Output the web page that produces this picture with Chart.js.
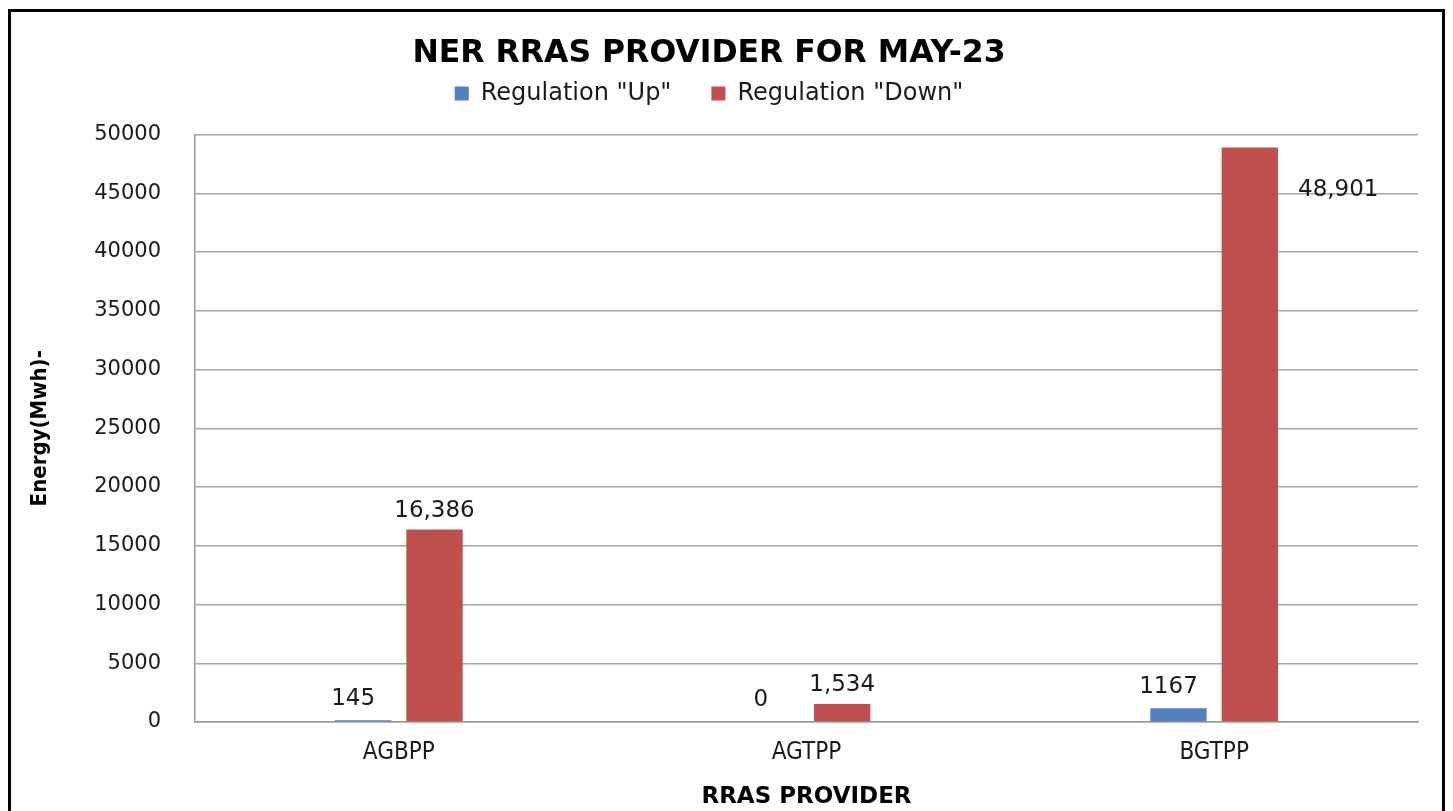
<!DOCTYPE html>
<html>
<head>
<meta charset="utf-8">
<script src="https://cdn.jsdelivr.net/npm/chart.js@4.4.0/dist/chart.umd.min.js"></script>
<style>
    html, body { margin: 0; padding: 0; background: #fff; overflow: hidden; }
    #wrap { position: relative; width: 1453px; height: 811px; }
    #frame {
        position: absolute; left: 8px; top: 9px; width: 1431px; height: 820px;
        border: 3px solid #000; pointer-events: none;
    }
    canvas { position: absolute; left: 0; top: 0; }
</style>
</head>
<body>
<div id="wrap">
    <canvas id="chart" width="1453" height="811"></canvas>
    <div id="frame"></div>
</div>
<script>
/* ---- data ---- */
const providers = ['AGBPP', 'AGTPP', 'BGTPP'];
const regUp = [145, 0, 1167];
const regDown = [16386, 1534, 48901];
const seriesNames = ['Regulation "Up"', 'Regulation "Down"'];
const yMax = 50000;
const yStep = 5000;

const BLUE = '#4F81BD';
const RED = '#C0504D';
const TEXT = '#1a1a1a';

/* value labels above each bar (moved beside the bar when it reaches the top) */
const valueLabels = {
    id: 'valueLabels',
    afterDatasetsDraw(chart) {
        const ctx = chart.ctx;
        const area = chart.chartArea;
        ctx.save();
        ctx.font = "23px 'DejaVu Sans', Verdana, sans-serif";
        ctx.fillStyle = TEXT;
        ctx.textBaseline = 'bottom';
        chart.data.datasets.forEach((ds, di) => {
            const meta = chart.getDatasetMeta(di);
            meta.data.forEach((bar, i) => {
                const v = ds.data[i];
                const txt = di === 1 ? v.toLocaleString('en-US') : String(v);
                if (bar.y - 30 < area.top) {
                    ctx.textAlign = 'left';
                    ctx.fillText(txt, bar.x + bar.width / 2 + 20, bar.y + 54);
                } else if (di === 0) {
                    ctx.textAlign = 'center';
                    ctx.fillText(txt, bar.x - 10, bar.y - 10);
                } else {
                    ctx.textAlign = 'center';
                    ctx.fillText(txt, bar.x, bar.y - 7);
                }
            });
        });
        ctx.restore();
    }
};

/* extra room between the legend and the plot */
const legendGap = {
    id: 'legendGap',
    beforeInit(chart) {
        const fit = chart.legend.fit;
        chart.legend.fit = function () {
            fit.call(this);
            this.height += 19;
        };
    }
};

new Chart(document.getElementById('chart'), {
    type: 'bar',
    data: {
        labels: providers,
        datasets: [
            { label: seriesNames[0], data: regUp, backgroundColor: BLUE, borderWidth: 0 },
            { label: seriesNames[1], data: regDown, backgroundColor: RED, borderWidth: 0 },
        ],
    },
    options: {
        responsive: false,
        animation: false,
        categoryPercentage: 0.35,
        barPercentage: 0.79,
        layout: { padding: { left: 0, right: 35, top: 26, bottom: 0 } },
        plugins: {
            tooltip: { enabled: false },
            title: {
                display: true,
                text: 'NER RRAS PROVIDER FOR MAY-23',
                color: '#000',
                font: { family: "'DejaVu Sans', Verdana, sans-serif", size: 31.5, weight: 'bold', lineHeight: 1 },
                padding: { top: 12, bottom: -28 },
            },
            legend: {
                display: true,
                position: 'top',
                labels: {
                    color: TEXT,
                    font: { family: "'DejaVu Sans', Verdana, sans-serif", size: 24 },
                    boxWidth: 14,
                    boxHeight: 14,
                    padding: 40,
                },
            },
        },
        scales: {
            x: {
                grid: { display: false, drawTicks: false },
                border: { display: true, color: '#999', width: 1.5 },
                ticks: {
                    color: TEXT,
                    padding: 16,
                    font: { family: "'DejaVu Sans Condensed', 'DejaVu Sans', sans-serif", size: 24 },
                },
                title: {
                    display: true,
                    text: 'RRAS PROVIDER',
                    color: '#000',
                    font: { family: "'DejaVu Sans', Verdana, sans-serif", size: 23, weight: 'bold' },
                    padding: { top: 0, bottom: 0 },
                },
                afterFit(scale) { scale.height = 89; },
            },
            y: {
                min: 0,
                max: yMax,
                grid: { color: '#A6A6A6', lineWidth: 1.5, drawTicks: false },
                border: { display: true, color: '#999', width: 1.5 },
                ticks: {
                    stepSize: yStep,
                    color: TEXT,
                    padding: 34,
                    font: { family: "'DejaVu Sans', Verdana, sans-serif", size: 21 },
                    callback: (v) => String(v),
                },
                title: {
                    display: true,
                    text: 'Energy(Mwh)-',
                    color: '#000',
                    font: { family: "'DejaVu Sans Condensed', 'DejaVu Sans', sans-serif", size: 22, weight: 'bold' },
                    padding: { top: 27, bottom: 0 },
                },
                afterFit(scale) { scale.width = 195; },
            },
        },
    },
    plugins: [valueLabels, legendGap],
});
</script>
</body>
</html>
